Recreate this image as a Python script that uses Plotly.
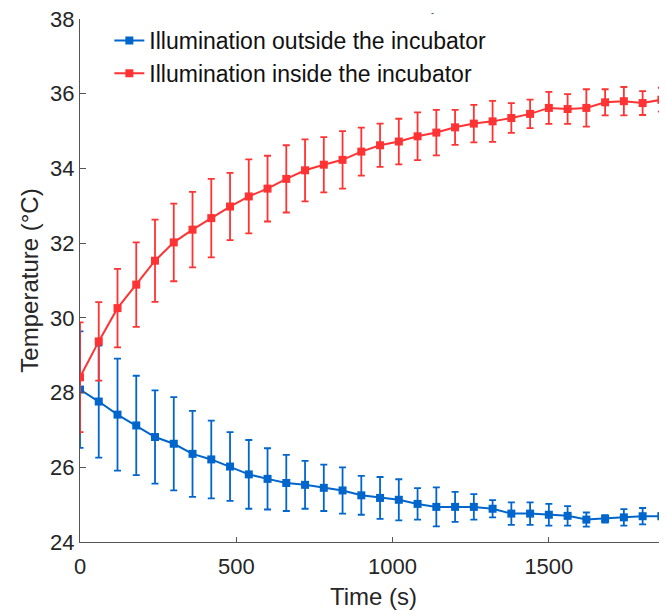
import plotly.graph_objects as go

time_s = [0, 60, 120, 180, 240, 300, 360, 420, 480, 540, 600, 660, 720, 780, 840, 900,
          960, 1020, 1080, 1140, 1200, 1260, 1320, 1380, 1440, 1500, 1560, 1620, 1680, 1740, 1800, 1860]

outside_mean = [28.08, 27.76, 27.41, 27.12, 26.81, 26.63, 26.36, 26.21, 26.02, 25.81, 25.69, 25.58,
                25.53, 25.45, 25.38, 25.25, 25.18, 25.13, 25.02, 24.94, 24.94, 24.94, 24.89, 24.76,
                24.76, 24.73, 24.70, 24.60, 24.62, 24.66, 24.69, 24.69]
outside_err = [1.56, 1.50, 1.50, 1.33, 1.25, 1.25, 1.15, 1.04, 0.92, 0.92, 0.82, 0.75, 0.64, 0.62,
               0.62, 0.52, 0.56, 0.55, 0.42, 0.52, 0.40, 0.34, 0.23, 0.30, 0.30, 0.29, 0.26, 0.19,
               0.10, 0.22, 0.22, 0.08]

inside_mean = [28.41, 29.37, 30.26, 30.89, 31.53, 32.02, 32.36, 32.67, 32.98, 33.25, 33.46, 33.72,
               33.95, 34.10, 34.23, 34.45, 34.62, 34.72, 34.86, 34.96, 35.10, 35.20, 35.26, 35.35,
               35.46, 35.62, 35.59, 35.62, 35.77, 35.80, 35.75, 35.84]
inside_err = [1.47, 1.05, 1.05, 1.13, 1.10, 1.04, 1.01, 1.05, 0.90, 0.99, 0.88, 0.90, 0.83, 0.74,
              0.77, 0.64, 0.58, 0.61, 0.64, 0.61, 0.47, 0.50, 0.55, 0.40, 0.38, 0.43, 0.40, 0.50,
              0.35, 0.38, 0.32, 0.32]

x_ticks = [0, 500, 1000, 1500]
y_ticks = [24, 26, 28, 30, 32, 34, 36, 38]

BLUE = "#0066CC"
RED = "#FF3333"
FONT = "Liberation Sans, Arial, sans-serif"
AXIS = "#555555"
TEXT = "#262626"

fig = go.Figure()
fig.add_trace(go.Scatter(
    x=time_s, y=outside_mean, mode="lines+markers",
    name="Illumination outside the incubator",
    line=dict(color=BLUE, width=2),
    marker=dict(symbol="square", size=8, color=BLUE),
    error_y=dict(type="data", array=outside_err, visible=True, color=BLUE, thickness=1.8, width=3.5),
))
fig.add_trace(go.Scatter(
    x=time_s, y=inside_mean, mode="lines+markers",
    name="Illumination inside the incubator",
    line=dict(color=RED, width=2),
    marker=dict(symbol="square", size=8, color=RED),
    error_y=dict(type="data", array=inside_err, visible=True, color=RED, thickness=1.8, width=3.5),
))

fig.update_layout(
    width=659, height=606,
    margin=dict(l=72, r=0, t=11, b=72),
    paper_bgcolor="white", plot_bgcolor="white",
    font=dict(family=FONT, size=22, color=TEXT),
    showlegend=True,
    legend=dict(x=0.05, y=1.0, xanchor="left", yanchor="top",
                bgcolor="rgba(0,0,0,0)", font=dict(size=23, color="#111111"),
                tracegroupgap=0, itemwidth=30),
    xaxis=dict(range=[0, 1878], tickvals=x_ticks, ticktext=[str(v) for v in x_ticks],
               showgrid=False, zeroline=False, showline=True, linecolor=AXIS, linewidth=1.2,
               ticks="inside", ticklen=5, tickcolor=AXIS, ticklabelstandoff=4,
               ticklabeloverflow="allow",
               tickfont=dict(size=22, color=TEXT),
               title=dict(text="Time (s)", font=dict(size=24, color=TEXT), standoff=10)),
    yaxis=dict(range=[24, 38], tickvals=y_ticks, ticktext=[str(v) for v in y_ticks],
               showgrid=False, zeroline=False, showline=True, linecolor=AXIS, linewidth=1.2,
               ticks="inside", ticklen=6, tickcolor=AXIS, ticklabeloverflow="allow",
               tickfont=dict(size=22, color=TEXT),
               title=dict(text="Temperature (°C)", font=dict(size=24, color=TEXT), standoff=4)),
    annotations=[dict(text="-", x=0.6, y=1.011, xref="paper", yref="paper",
                      xanchor="center", yanchor="middle", showarrow=False,
                      font=dict(size=9, color=TEXT))],
)

fig.write_html("out.html")
